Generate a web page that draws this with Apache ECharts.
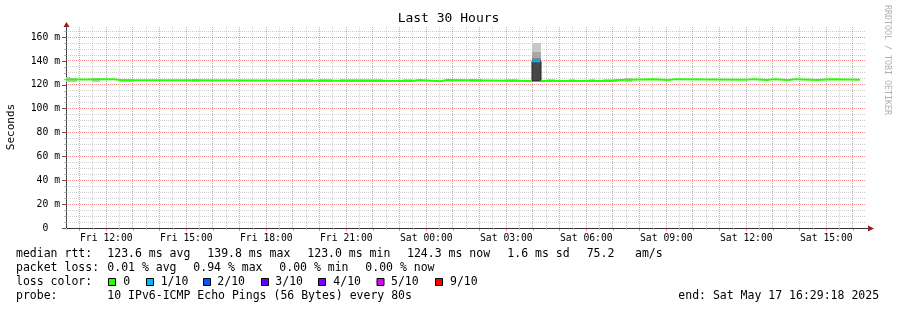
<!DOCTYPE html>
<html><head><meta charset="utf-8">
<script src="https://cdn.jsdelivr.net/npm/echarts@6/dist/echarts.min.js"></script>
<style>html,body{margin:0;padding:0;background:#fff}#c{width:897px;height:310px}</style>
</head><body><div id="c"></div>
<script>
// ---------------- data ----------------
const titleText = 'Last 30 Hours';
const yAxisTitle = 'Seconds';
const sideText = 'RRDTOOL / TOBI OETIKER';
const xStart = 'Fri 10:29:18';
const xEnd = 'Sat 16:29:18';
const xTickLabels = ['Fri 12:00','Fri 15:00','Fri 18:00','Fri 21:00','Sat 00:00','Sat 03:00','Sat 06:00','Sat 09:00','Sat 12:00','Sat 15:00'];
const yTickValues = [0,20,40,60,80,100,120,140,160];
const yTickLabels = ['0  ','20 m','40 m','60 m','80 m','100 m','120 m','140 m','160 m'];
const yMax = 168.5;

// median rtt (ms), stepwise segments: boundaries (n+1), values (n), loss index (n)
const medianBounds = ['Fri 10:29','Fri 11:10','Fri 12:14','Fri 12:31','Fri 23:29','Fri 23:44','Sat 00:31','Sat 00:47','Sat 03:57','Sat 04:17','Sat 06:57','Sat 07:12','Sat 08:31','Sat 08:53','Sat 09:05','Sat 09:20','Sat 11:59','Sat 12:16','Sat 12:47','Sat 13:03','Sat 13:35','Sat 13:53','Sat 14:40','Sat 15:11','Sat 16:16'];
const medianValues = [124.4,124.8,124.0,123.2,124.0,123.0,124.0,123.2,139.8,123.2,124.0,124.8,124.3,124.0,124.8,124.2,124.8,124.1,124.8,124.1,124.8,124.1,124.8,124.3];
const medianLoss   = [0,0,0,0,0,0,0,0,1,0,0,0,0,0,0,0,0,0,0,0,0,0,0,0];

// smoke (ping spread) bands
const smokeStart = ['Fri 10:29','Fri 10:39','Fri 11:27','Fri 12:31','Fri 15:12','Fri 19:12','Fri 19:57','Fri 20:46','Fri 21:53','Fri 22:08','Fri 23:08','Sat 01:38','Sat 02:57','Sat 04:31','Sat 05:20','Sat 06:05','Sat 06:38','Sat 06:57','Sat 07:27','Sat 03:57','Sat 03:57','Sat 03:57','Sat 03:57'];
const smokeEnd   = ['Fri 10:39','Fri 10:55','Fri 11:45','Fri 13:02','Fri 15:29','Fri 19:44','Fri 20:31','Fri 21:53','Fri 22:08','Fri 22:23','Fri 23:29','Sat 02:05','Sat 03:27','Sat 04:50','Sat 05:35','Sat 06:20','Sat 06:57','Sat 07:12','Sat 07:42','Sat 04:17','Sat 04:17','Sat 04:17','Sat 04:17'];
const smokeLow   = [122.6,122.6,122.6,122.6,122.6,122.6,122.6,122.6,122.6,122.6,122.6,122.6,122.6,122.6,122.6,122.6,122.6,122.6,122.6,147.9,142.4,140.1,123.0];
const smokeHigh  = [126.6,126.1,126.1,124.6,124.6,124.6,124.6,124.6,125.2,124.6,124.6,124.5,124.5,124.5,124.5,124.5,124.5,125.0,126.1,154.9,147.9,142.4,140.1];
const smokeShade = [0,0,0,0,0,0,0,0,0,0,0,0,0,0,0,0,0,0,0,0,1,2,3];

const lossLabels = ['0','1/10','2/10','3/10','4/10','5/10','9/10'];
const lossColors = ['#26ff00','#00b8ff','#0059ff','#5e00ff','#7e00ff','#dd00ff','#ff0000'];

const legendLine1 = ['median rtt:','123.6 ms avg','139.8 ms max','123.0 ms min','124.3 ms now','1.6 ms sd','75.2','am/s'];
const legendLine2 = ['packet loss:','0.01 % avg','0.94 % max','0.00 % min','0.00 % now'];
const legendLine3 = ['loss color:'];
const legendLine4 = ['probe:','10 IPv6-ICMP Echo Pings (56 Bytes) every 80s','end: Sat May 17 16:29:18 2025'];

// ---------------- layout / style ----------------
const G = {left:66, top:27, width:800, height:201};
const MONO = 'DejaVu Sans Mono';
const legendX1 = [16,107.3,207.3,307.3,407,507.3,586.7,635];
const legendX2 = [16,107.3,193.3,279.3,365.3];
const legendX4 = [16,107.3,678.3];
const lossBoxX = [108.5,146.5,203.5,261.5,318.5,377,435.5];
const lossTextX = [123.3,160.7,217.3,275.3,333.3,391,450];
const legendY = [254.3,268.3,282.3,296.3];
const shadeColors = ['#c8c8c8','#a8a8a8','#838383','#474747'];
const majorGridColor = 'rgba(255,0,0,0.42)';
const minorGridColor = 'rgba(150,150,150,0.45)';

function toHours(s){
  const parts = s.split(' ');
  const hm = parts[1].split(':').map(Number);
  return (parts[0]==='Sat'?24:0) + hm[0] + (hm[1]||0)/60 + (hm[2]||0)/3600;
}
const xMin = toHours(xStart), xMax = toHours(xEnd);
const xTickValues = xTickLabels.map(toHours);

const hourTicks = [], halfTicks = [];
for (let h = Math.ceil(xMin*2)/2; h <= xMax; h += 0.5) {
  if (Math.abs(h - Math.round(h)) < 1e-9) hourTicks.push(h); else halfTicks.push(h);
}
const yMinorTicks = [];
for (let v = 5; v < yMax; v += 5) if (v % 20 !== 0) yMinorTicks.push(v);

// grid line items: [kind, value] kind 0 v-minor, 1 v-major, 2 h-minor, 3 h-major
const gridItems = [];
halfTicks.forEach(v => gridItems.push([0, v]));
yMinorTicks.forEach(v => gridItems.push([2, v]));
hourTicks.forEach(v => gridItems.push([1, v]));
yTickValues.filter(v => v > 0).forEach(v => gridItems.push([3, v]));

// median series per loss level
function medianData(level){
  const out = [];
  for (let i = 0; i < medianValues.length; i++) {
    const a = toHours(medianBounds[i]), b = toHours(medianBounds[i+1]);
    if (medianLoss[i] === level) { out.push([a, medianValues[i]]); out.push([b, medianValues[i]]); }
    else if (out.length && out[out.length-1][1] !== null) out.push([a, null]);
  }
  return out;
}
const smokeData = smokeStart.map((s, i) => [toHours(s), toHours(smokeEnd[i]), smokeLow[i], smokeHigh[i], smokeShade[i]]);

const chart = echarts.init(document.getElementById('c'));

const graphics = [];
const txt = (text, x, y, size, extra) => Object.assign({type:'text', x, y, silent:true,
  style: Object.assign({text, font: size + 'px "' + MONO + '"', fill:'#000', textAlign:'left', textVerticalAlign:'middle'}, (extra||{}).style||{})},
  (extra||{}).el||{});
graphics.push(txt(titleText, 448.5, 19, 13, {style:{textAlign:'center'}}));
graphics.push(txt(yAxisTitle, 11, 127, 11, {style:{textAlign:'center'}, el:{rotation: Math.PI/2}}));
graphics.push(txt(sideText, 887, 60, 8.3, {style:{textAlign:'center', fill:'#b0b0b0'}, el:{rotation: -Math.PI/2}}));
legendLine1.forEach((t,i)=>graphics.push(txt(t, legendX1[i], legendY[0], 11.5)));
legendLine2.forEach((t,i)=>graphics.push(txt(t, legendX2[i], legendY[1], 11.5)));
graphics.push(txt(legendLine3[0], 16, legendY[2], 11.5));
lossLabels.forEach((t,i)=>{
  graphics.push({type:'rect', silent:true, shape:{x:lossBoxX[i], y:legendY[2]-3.8, width:7, height:7},
    style:{fill:lossColors[i], stroke:'#000', lineWidth:1}});
  graphics.push(txt(t, lossTextX[i], legendY[2], 11.5));
});
legendLine4.forEach((t,i)=>graphics.push(txt(t, legendX4[i], legendY[3], 11.5)));
// axis arrows
const ax = G.left + 0.5, ay = G.top + G.height;
graphics.push({type:'polygon', silent:true, shape:{points:[[ax-3, G.top], [ax+3, G.top], [ax, G.top-5]]}, style:{fill:'#9b1c1c'}});
graphics.push({type:'line', silent:true, shape:{x1:G.left+G.width, y1:ay+0.5, x2:G.left+G.width+3, y2:ay+0.5}, style:{stroke:'#333', lineWidth:1}});
graphics.push({type:'polygon', silent:true, shape:{points:[[G.left+G.width+2, ay-2.5], [G.left+G.width+2, ay+3.5], [G.left+G.width+8, ay+0.5]]}, style:{fill:'#9b1c1c'}});

chart.setOption({
  animation:false,
  backgroundColor:'#fff',
  grid:{left:G.left, top:G.top, width:G.width, height:G.height, containLabel:false},
  xAxis:[{
    type:'value', min:xMin, max:xMax, position:'bottom',
    axisLine:{show:true, lineStyle:{color:'#333', width:1}},
    axisTick:{show:true, customValues:hourTicks, length:3, lineStyle:{color:'rgba(255,0,0,0.5)'}},
    axisLabel:{show:true, customValues:xTickValues, margin:5, color:'#000', fontFamily:MONO, fontSize:9.75,
      formatter:(v)=>{ const i = xTickValues.findIndex(t=>Math.abs(t-v)<1e-6); return i>=0?xTickLabels[i]:''; }},
    splitLine:{show:false}
  },{
    type:'value', min:xMin, max:xMax, position:'bottom',
    axisLine:{show:false},
    axisTick:{show:true, customValues:halfTicks, length:2, lineStyle:{color:'#bbb'}},
    axisLabel:{show:false}, splitLine:{show:false}
  }],
  yAxis:[{
    type:'value', min:0, max:yMax, position:'left',
    axisLine:{show:true, lineStyle:{color:'#333', width:1}},
    axisTick:{show:true, customValues:yTickValues, length:4, lineStyle:{color:'#555'}},
    axisLabel:{show:true, customValues:yTickValues, margin:6, color:'#000', fontFamily:MONO, fontSize:9.75,
      formatter:(v)=>{ const i = yTickValues.findIndex(t=>Math.abs(t-v)<1e-6); return i>=0?yTickLabels[i]:''; }},
    splitLine:{show:false}
  },{
    type:'value', min:0, max:yMax, position:'left',
    axisLine:{show:false},
    axisTick:{show:true, customValues:yMinorTicks, length:2, lineStyle:{color:'#bbb'}},
    axisLabel:{show:false}, splitLine:{show:false}
  }],
  graphic: graphics,
  series:[
    {
      type:'custom', name:'grid', silent:true, z:1, data:gridItems, clip:false,
      renderItem:(params, api)=>{
        const kind = api.value(0), v = api.value(1);
        const cs = params.coordSys;
        let shape;
        if (kind < 2) {
          const x = Math.floor(api.coord([v, 0])[0]) + 0.5;
          shape = {x1:x, y1:cs.y, x2:x, y2:cs.y+cs.height};
        } else {
          const y = Math.floor(api.coord([xMin, v])[1]) + 0.5;
          shape = {x1:cs.x, y1:y, x2:cs.x+cs.width, y2:y};
        }
        return {type:'line', shape, silent:true,
          style:{stroke: (kind===1||kind===3)?majorGridColor:minorGridColor, lineWidth:1, lineDash:[1,1]}};
      }
    },
    {
      type:'custom', name:'smoke', silent:true, z:2, data:smokeData,
      renderItem:(params, api)=>{
        const p0 = api.coord([api.value(0), api.value(3)]);
        const p1 = api.coord([api.value(1), api.value(2)]);
        const sh = api.value(4);
        const x0 = Math.round(p0[0]), x1 = Math.round(p1[0]);
        const y0 = Math.round(p0[1]), y1 = Math.round(p1[1]);
        return {type:'rect', shape:{x:x0, y:y0, width:x1-x0, height:y1-y0},
          style: sh===3 ? {fill:shadeColors[sh], stroke:'#222', lineWidth:1} : {fill:shadeColors[sh]}};
      }
    },
    {type:'line', name:'median 0', z:5, data:medianData(0), showSymbol:false, symbol:'none', connectNulls:false,
      lineStyle:{width:2, color:lossColors[0]}, silent:true},
    {type:'line', name:'median 1/10', z:5, data:medianData(1), showSymbol:false, symbol:'none', connectNulls:false,
      lineStyle:{width:2, color:lossColors[1]}, silent:true}
  ]
});
</script>
</body></html>
